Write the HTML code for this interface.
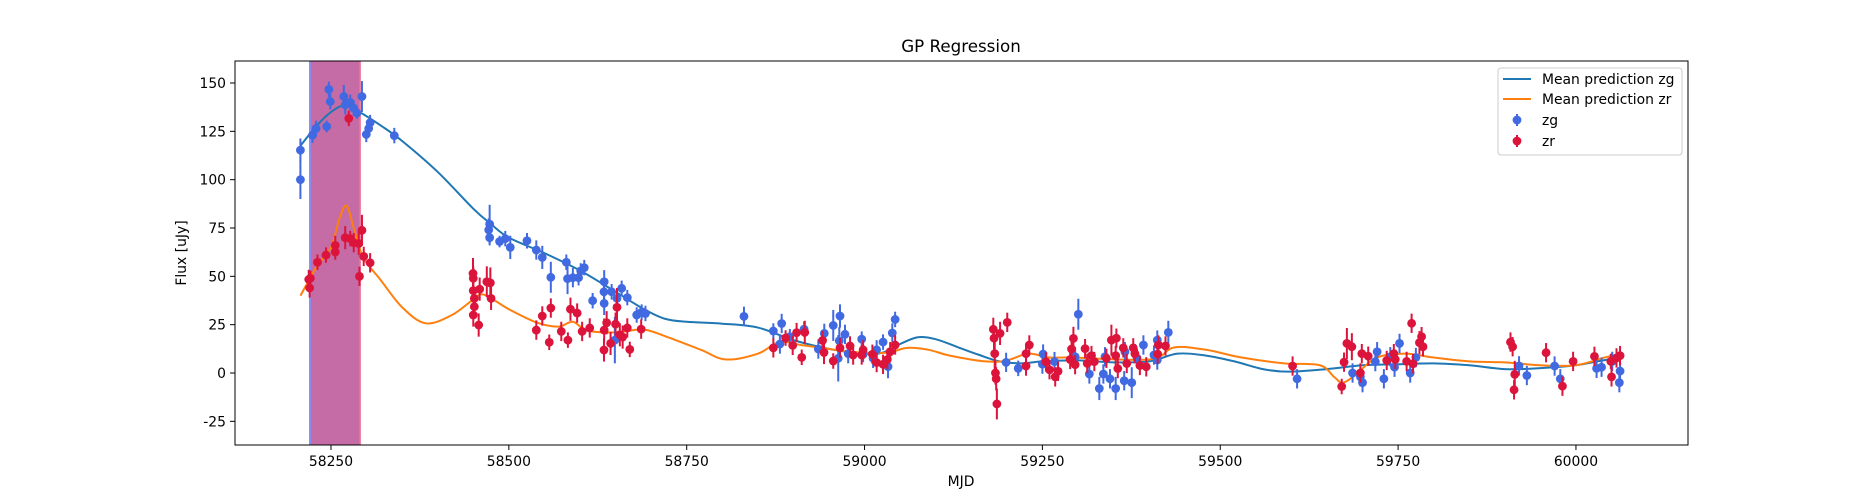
<!DOCTYPE html>
<html><head><meta charset="utf-8">
<style>
html,body{margin:0;padding:0;background:#fff;}
svg{display:block;font-family:"DejaVu Sans","Liberation Sans",sans-serif;}
</style></head>
<body>
<svg id="chart" width="1875" height="500" viewBox="0 0 1875 500">
<defs><clipPath id="plotclip"><rect x="235" y="61" width="1453" height="384"/></clipPath></defs>
<rect x="0" y="0" width="1875" height="500" fill="#fff"/>
<text x="961" y="52" text-anchor="middle" font-size="16.7" fill="#000">GP Regression</text>
<g id="plot" clip-path="url(#plotclip)"></g>
<g id="axes"></g>
<text x="961" y="486" text-anchor="middle" font-size="13.9">MJD</text>
<text transform="translate(186,253) rotate(-90)" text-anchor="middle" font-size="13.9">Flux [uJy]</text>
<g id="legend">
<rect x="1498" y="68" width="184" height="87" rx="3" fill="#fff" fill-opacity="0.8" stroke="#ccc"/>
<line x1="1503" y1="79" x2="1531" y2="79" stroke="#1f77b4" stroke-width="2"/>
<text x="1542" y="84" font-size="13.9">Mean prediction zg</text>
<line x1="1503" y1="99" x2="1531" y2="99" stroke="#ff7f0e" stroke-width="2"/>
<text x="1542" y="104" font-size="13.9">Mean prediction zr</text>
<line x1="1517" y1="114" x2="1517" y2="126" stroke="#4169e1" stroke-width="2"/>
<circle cx="1517" cy="120" r="4.4" fill="#4169e1"/>
<text x="1542" y="125" font-size="13.9">zg</text>
<line x1="1517" y1="135" x2="1517" y2="147" stroke="#dc143c" stroke-width="2"/>
<circle cx="1517" cy="141" r="4.4" fill="#dc143c"/>
<text x="1542" y="146" font-size="13.9">zr</text>
</g>
</svg>
<script>
const xTicks = [58250,58500,58750,59000,59250,59500,59750,60000];
const yTicks = [-25,0,25,50,75,100,125,150];
const spanStart = 58220.5, spanEnd = 58291;
const zgDays = [58207,58207,58224,58229,58244,58247,58249,58268,58270,58277,58282,58286.5,58293.5,58299.6,58303,58305,58339,58471.7,58473,58473,58487,58495,58502,58525.5,58538.6,58547,58559,58580.8,58582.5,58590,58598,58601,58606,58617.8,58633.7,58634,58634,58644.5,58658.6,58652,58666.5,58679.7,58686.7,58692,58649,58830.5,58871.8,58883.5,58881,58895,58915,58935,58943.4,58956,58965.5,58964.5,58972.5,58963,58977,58996,58998,59017,59026,59039,59043,59012,59033,59199,59216,59251,59250,59267,59300.5,59296,59316,59335.7,59345,59338,59375.6,59366,59383,59392,59406.8,59411.5,59411.5,59427,59330,59353,59365,59608,59720.5,59718,59752,59739,59767,59697,59686,59700,59730,59745,59775,59920,59931,59970,59978,60029,60036,60051,60061,60062];
const zgFlux = [115.3,100,123,126.5,127.5,146.7,140.4,143,138.7,140,137,134.5,143,123.4,126.5,129.5,122.8,74,77,70,68,69.5,65,68.4,63.6,59.8,49.5,57.3,48.8,49.3,49.3,52.8,54.5,37.4,42,47.2,36,42,43.8,38.6,39,30,31.5,30.8,17,29.3,21.7,25.6,15,18.8,22.7,12.4,20.5,24.6,29.5,16.7,20,7.6,10,17.5,9.6,12,16,20.7,27.7,7.6,3.3,5.5,2.4,9.8,4.6,5.9,30.4,8.4,-0.5,-0.5,-3,8.4,-5,11,7.6,14.5,9.3,6.7,17,21,-8,-8,-4,-3,11,5.9,15.3,8.4,0,-2,0,-5,-3,3,8,3.7,-1.3,3.6,-3,2.4,3,6,-5,1];
const zgErr = [6,10,4,4,3,4,4,6,5,4,4,3,8,4,4,4,4,6,10,4,3,4,6,4,5,6,8,4,8,5,4,4,4,4,5,6,6,4,4,4,4,4,4,4,12,5,4,5,5,4,4,5,5,8,6,7,5,12,5,4,4,5,4,5,4,5,6,5,4,5,5,5,8,5,5,5,5,5,8,5,5,5,5,5,5,6,6,6,5,5,5,5,5,5,5,5,5,5,5,5,5,5,5,5,5,5,5,5,5,5];
const zrDays = [58218.7,58220,58221,58231,58243,58256,58256,58270,58275,58277,58282,58289,58290,58293.5,58296,58305,58449.6,58450,58450,58451.5,58451.5,58450,58457.6,58459,58469,58474,58475,58538.6,58547,58556.8,58559,58573.7,58583,58586.6,58596,58603,58613.7,58633.7,58634,58637.5,58643,58650,58652,58656,58660,58666.5,58670,58686,58871.8,58889,58899,58904.5,58911.7,58916,58941,58943,58956,58965.5,58979.6,58984,58996,58998,59011,59017,59026,59032,59036,59043,59181,59182,59183,59184,59185,59186,59190.5,59200.6,59227,59231.6,59227,59255,59260,59272,59268,59289,59293.6,59291,59296,59310,59313,59319,59323,59340,59347,59354,59356,59353,59363.7,59368.6,59377.7,59380,59387,59396,59412,59413,59423,59601.7,59670.7,59674,59678,59685,59699,59708,59697,59734,59744,59746,59762,59769,59771,59780,59783,59785,59908,59911,59914,59913,59958,59981,59996,60026,60049,60050,60057,60062];
const zrFlux = [48.4,44,49,57.3,61,66,62.6,70,131.7,69.5,67.4,67,50,73.8,60.3,57,51.5,49,42.6,38.6,34.3,30,24.8,43.4,47.2,46.6,38.6,22.2,29.5,15.9,33.6,21.5,17,33,31,21.5,23.3,11.9,22.2,26,15.3,25.3,34,19.8,18.6,23.3,12.2,22.7,13,18.1,14.3,20.9,8.1,21,16.8,10.6,6.2,13,14,9.3,9.3,12,9.7,5.4,4.5,7,11,14.5,22.6,18,10,0,-3,-16,20.5,26.2,10,14.5,3.6,5.8,1.7,0.9,-2,7,17.9,12.4,4.3,12.6,5,9,5.9,7.6,17,18,2.3,9,13,4.9,13,10,3.9,3.2,9.8,14.5,14,3.6,-7,5.6,15.3,13.6,10,8.7,0,6.5,10,7,6,25.7,4.8,15.7,18.8,13.6,16,13.6,-0.7,-8.7,10.5,-6.8,6,8.6,6,-2,7.8,9];
const zrErr = [5,5,4,4,4,5,4,6,4,4,5,6,5,8,5,5,8,6,6,6,6,6,6,6,8,8,6,5,5,4,5,5,4,6,5,5,5,6,6,6,6,6,10,6,6,5,4,5,5,4,5,5,4,6,5,6,4,5,5,5,5,5,5,5,5,5,5,5,6,6,8,6,6,8,6,5,5,5,5,5,5,5,5,5,6,5,5,5,5,5,5,5,8,5,5,5,5,5,5,5,5,5,5,5,5,5,4,5,8,7,5,5,5,5,5,5,5,5,5,6,5,5,5,5,7,5,5,5,5,5,4,5,5,5,5,5];
const zgCurveDays = [58207,58230,58250,58270,58290,58320,58350,58400,58450,58475,58500,58550,58600,58650,58690,58720,58750,58800,58850,58900,58950,59000,59025,59050,59075,59100,59130,59160,59190,59220,59250,59300,59350,59400,59440,59480,59520,59560,59595,59650,59700,59750,59800,59850,59900,59950,60000,60030,60062];
const zgCurveFlux = [117.5,128,135,138.5,135,128,120,104,85,77,70,62,53,42,33,28,26.5,25.5,23.5,17,12.5,10,10.5,15,18.5,17.5,13.5,9.5,6,5,6,6.5,5.5,6,10,9,6,2,0.7,2,4,4.5,5,4,2,2.5,4,6,8];
const zrCurveDays = [58207,58230,58250,58262,58272,58282,58295,58320,58350,58383,58420,58450,58465,58500,58540,58570,58590,58610,58650,58688,58720,58770,58805,58850,58880,58910,58940,58980,59030,59060,59090,59120,59170,59200,59230,59260,59290,59400,59435,59480,59530,59590,59640,59660,59672,59690,59720,59760,59800,59850,59900,59950,60000,60040,60065];
const zrCurveFlux = [40,55,65,80,86.5,75,60,48,34,25.7,30,38,40.5,33,26,24,26.5,22,21,22.5,19,12,7,10,16,14.5,13,11,10.5,13,12,9,6,6.5,10,8,8,7,13.2,12,8,5,4,-2,-5,-1,8,10,8,6,5.5,4,4,8,10];

const NS='http://www.w3.org/2000/svg';
const X0=331, XS=0.7114, Y0=373, YS=1.9333;
function xs(d){return X0+(d-58250)*XS;}
function ys(v){return Y0-v*YS;}
function mk(tag,attrs,parent){const e=document.createElementNS(NS,tag);for(const k in attrs)e.setAttribute(k,attrs[k]);parent.appendChild(e);return e;}
const plot=document.getElementById('plot'), axes=document.getElementById('axes');

const span=mk('rect',{x:xs(spanStart),y:61,width:xs(spanEnd)-xs(spanStart),height:384,fill:'#c56ba6'},plot);


const sl=mk('line',{x1:xs(spanStart),y1:61,x2:xs(spanStart),y2:445,stroke:'#8a8cf0','stroke-width':2},plot);


const sr=mk('line',{x1:xs(spanEnd),y1:61,x2:xs(spanEnd),y2:445,stroke:'#f07a9a','stroke-width':1.5},plot);



function smoothPath(xa,ya){
  const p=xa.map((d,i)=>[xs(d),ys(ya[i])]);
  let s='M'+p[0][0]+','+p[0][1];
  for(let i=0;i<p.length-1;i++){
    const a=p[i-1]||p[i],b=p[i],c=p[i+1],d=p[i+2]||c;
    const c1=[b[0]+(c[0]-a[0])/6,b[1]+(c[1]-a[1])/6],c2=[c[0]-(d[0]-b[0])/6,c[1]-(d[1]-b[1])/6];
    s+=' C'+c1[0]+','+c1[1]+' '+c2[0]+','+c2[1]+' '+c[0]+','+c[1];
  }
  return s;
}
const lg=mk('path',{d:smoothPath(zgCurveDays,zgCurveFlux),fill:'none',stroke:'#1f77b4','stroke-width':2},plot);


const lr=mk('path',{d:smoothPath(zrCurveDays,zrCurveFlux),fill:'none',stroke:'#ff7f0e','stroke-width':2},plot);



function drawPoints(days,flux,err,color,name){
  const g=mk('g',{},plot);
  
  
  days.forEach((d,i)=>{
    const x=xs(d),y=ys(flux[i]),e=err[i]*YS;
    const l=mk('line',{x1:x,y1:y-e,x2:x,y2:y+e,stroke:color,'stroke-width':2},g);
    
    
    const c=mk('circle',{cx:x,cy:y,r:4.4,fill:color},g);
    
    
  });
}
drawPoints(zgDays,zgFlux,zgErr,'#4169e1','zg');
drawPoints(zrDays,zrFlux,zrErr,'#dc143c','zr');

const frame=mk('rect',{x:235,y:61,width:1453,height:384,fill:'none',stroke:'#000','stroke-width':1},axes);


xTicks.forEach(t=>{
  const x=xs(t);
  const l=mk('line',{x1:x,y1:445,x2:x,y2:450,stroke:'#000'},axes);
  
  
  const tx=mk('text',{x:x,y:466,'text-anchor':'middle','font-size':13.9},axes);
  tx.textContent=t;
  
  
});
yTicks.forEach(t=>{
  const y=ys(t);
  const l=mk('line',{x1:230,y1:y,x2:235,y2:y,stroke:'#000'},axes);
  
  
  const tx=mk('text',{x:226,y:y+5,'text-anchor':'end','font-size':13.9},axes);
  tx.textContent=t;
  
  
});
</script>
</body></html>
